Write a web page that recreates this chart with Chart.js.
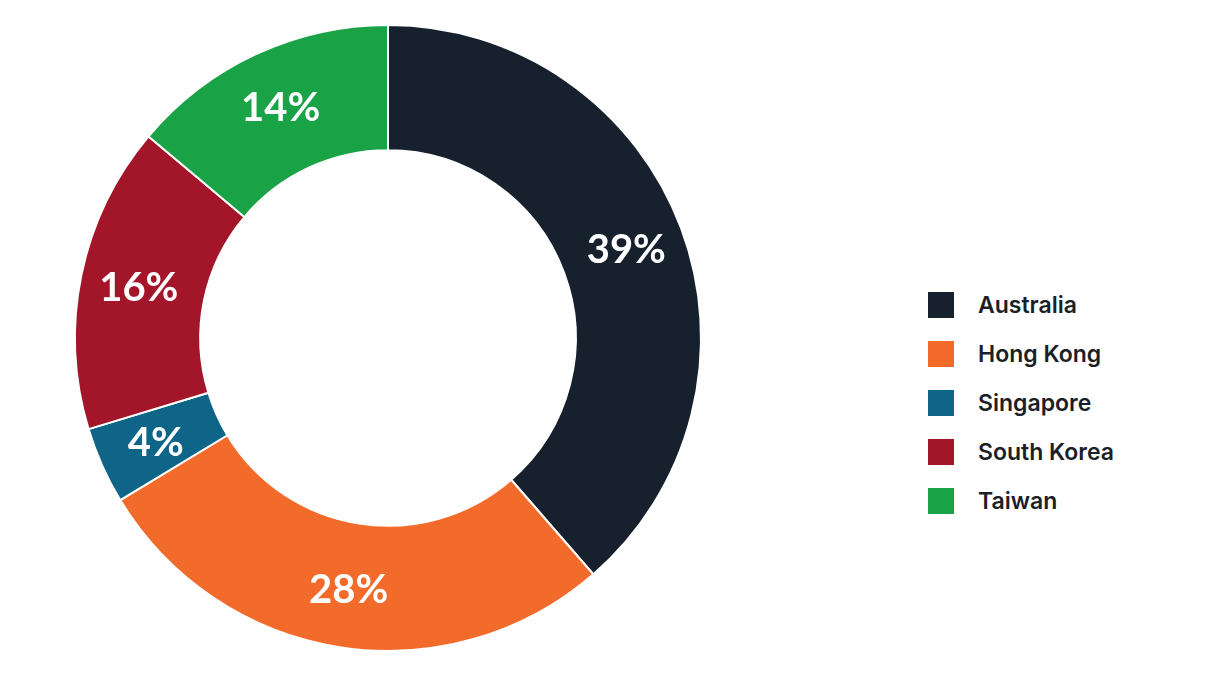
<!DOCTYPE html>
<html>
<head>
<meta charset="utf-8">
<script src="https://cdn.jsdelivr.net/npm/chart.js@4/dist/chart.umd.min.js"></script>
<style>
    body { margin: 0; background: #fff; }
    #wrap { position: absolute; left: 0; top: 0; width: 776px; height: 690px; }
    #legend { position: absolute; left: 928px; top: 292px; list-style: none; margin: 0; padding: 0; }
    #legend li { height: 26px; margin-bottom: 23px; display: flex; align-items: center;
        font-family: "Inter", "Liberation Sans", sans-serif; font-weight: 600; font-size: 23px; color: #1b1f27; }
    #legend span { display: inline-block; width: 26px; height: 26px; margin-right: 24px; }
</style>
</head>
<body>
<div id="wrap"><canvas id="chart"></canvas></div>
<ul id="legend"></ul>
<script>
// 資料
const regions = ['Australia', 'Hong Kong', 'Singapore', 'South Korea', 'Taiwan'];
const shares = [39, 28, 4, 16, 14];
const colors = ['#16212d', '#f26b2b', '#0e6588', '#a31529', '#1aa346'];

// 在每個扇形中間寫上百分比
const sliceLabels = {
    id: 'sliceLabels',
    afterDatasetsDraw(chart) {
        const ctx = chart.ctx;
        const meta = chart.getDatasetMeta(0);
        ctx.save();
        ctx.fillStyle = '#ffffff';
        ctx.font = 'bold 40px Lato, sans-serif';
        ctx.textAlign = 'center';
        ctx.textBaseline = 'middle';
        meta.data.forEach((arc, i) => {
            const a = (arc.startAngle + arc.endAngle) / 2;
            const r = (arc.innerRadius + arc.outerRadius) / 2 + 4;
            ctx.fillText(shares[i] + '%', arc.x + Math.cos(a) * r, arc.y + Math.sin(a) * r + 1);
        });
        ctx.restore();
    }
};

function initChart() {
    const ctx = document.getElementById('chart').getContext('2d');
    new Chart(ctx, {
        type: 'doughnut',
        data: {
            labels: regions,
            datasets: [{
                data: shares,
                backgroundColor: colors,
                borderColor: '#ffffff',
                borderWidth: 2
            }]
        },
        options: {
            responsive: true,
            maintainAspectRatio: false,
            animation: false,
            cutout: '60%',
            layout: { padding: { top: 24, bottom: 38 } },
            plugins: {
                legend: { display: false },
                tooltip: { enabled: false }
            }
        },
        plugins: [sliceLabels]
    });
}

// 圖例
function buildLegend() {
    const ul = document.getElementById('legend');
    regions.forEach((name, i) => {
        const li = document.createElement('li');
        li.innerHTML = `<span style="background:${colors[i]}"></span>${name}`;
        ul.appendChild(li);
    });
}

initChart();
buildLegend();
</script>
</body>
</html>
